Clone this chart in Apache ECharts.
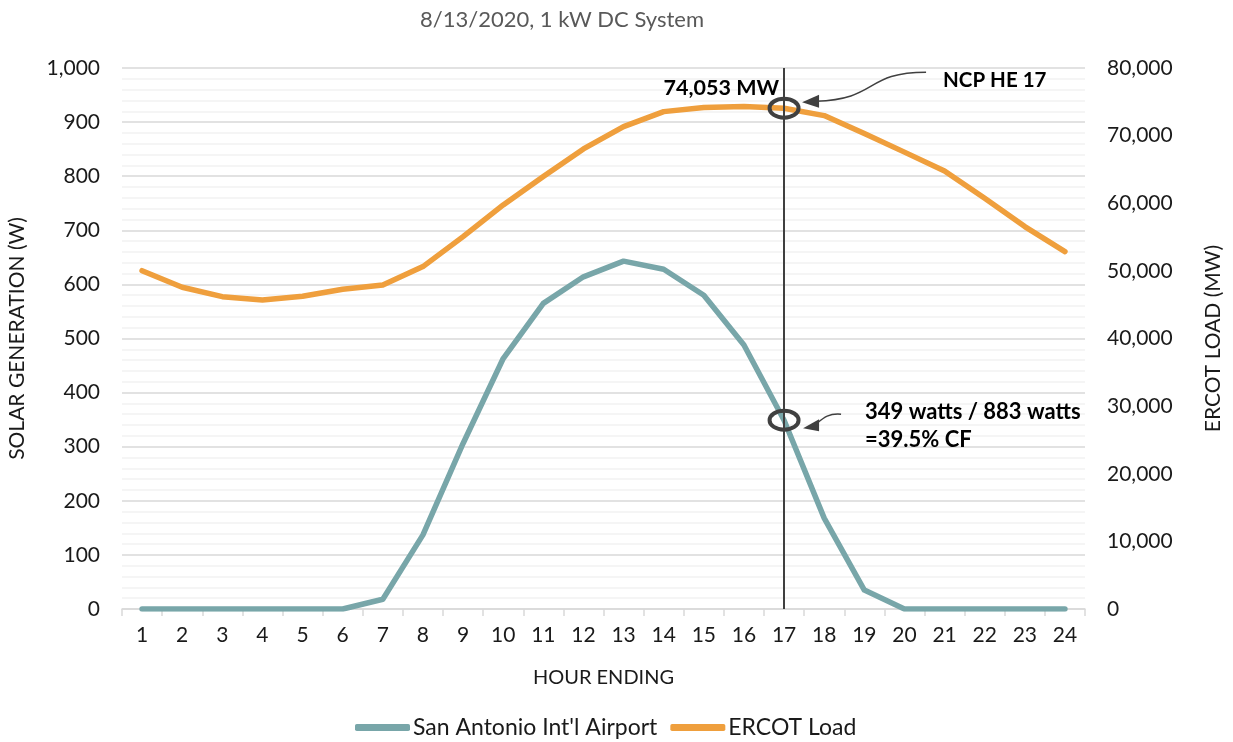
<!DOCTYPE html>
<html>
<head>
<meta charset="utf-8">
<script src="https://cdn.jsdelivr.net/npm/echarts@6/dist/echarts.min.js"></script>
<style>
  html, body { margin: 0; padding: 0; background: #fff; }
  #chart { width: 1233px; height: 742px; }
</style>
</head>
<body>
<div id="chart"></div>
<script>
// Hour-ending categories (1..24)
const hours = ['1','2','3','4','5','6','7','8','9','10','11','12','13','14','15','16','17','18','19','20','21','22','23','24'];

// Solar output of a 1 kW DC system, watts
const solarWatts = [0, 0, 0, 0, 0, 0, 18, 137, 306, 463, 565, 614, 643, 628, 580, 488, 349, 168, 35, 0, 0, 0, 0, 0];

// ERCOT system load, MW
const ercotLoad = [50030, 47580, 46190, 45700, 46250, 47280, 47920, 50630, 55070, 59750, 63940, 68030,
                   71330, 73550, 74150, 74300, 74053, 72960, 70300, 67560, 64780, 60740, 56550, 52850];

// Left / right axis ranges
const solarAxis = { min: 0, max: 1000, interval: 100 };
const loadAxis = { min: 0, max: 80000, interval: 10000 };

// Peak hour highlighted by the vertical marker
const peakHour = '17';
const peakLoad = 74053;
const peakSolar = 349;

const FONT = 'Lato, "Open Sans", sans-serif';
const TEXT = '#1a1a1a';
const TEAL = '#78a6a9';
const ORANGE = '#ef9f3d';
const DARK = '#404040';

const chart = echarts.init(document.getElementById('chart'), null, { renderer: 'canvas' });

chart.setOption({
  animation: false,
  textStyle: { fontFamily: FONT },
  title: {
    text: '8/13/2020, 1 kW DC System',
    left: 557, top: 4,
    textAlign: 'center',
    textStyle: { fontFamily: FONT, fontSize: 22, fontWeight: 'normal', color: '#595959' }
  },
  grid: { left: 122, right: 148, top: 68, bottom: 133, containLabel: false, outerBoundsMode: 'none' },
  legend: {
    top: 711,
    left: 350,
    itemWidth: 55,
    itemHeight: 7,
    itemGap: 13,
    icon: 'roundRect',
    textStyle: { fontFamily: FONT, fontSize: 23, color: TEXT, padding: [0, 0, 0, -2] },
    data: ["San Antonio Int'l Airport", 'ERCOT Load']
  },
  xAxis: {
    type: 'category',
    data: hours,
    boundaryGap: true,
    name: 'HOUR ENDING',
    nameLocation: 'middle',
    nameGap: 59,
    nameTextStyle: { fontFamily: FONT, fontSize: 20, color: TEXT },
    axisLine: { lineStyle: { color: '#d9d9d9', width: 1.5 } },
    axisTick: { show: true, length: 7, lineStyle: { color: '#d9d9d9', width: 1.5 } },
    axisLabel: { fontFamily: FONT, fontSize: 21, color: TEXT, margin: 16 },
    splitLine: { show: false }
  },
  yAxis: [
    {
      type: 'value',
      min: solarAxis.min, max: solarAxis.max, interval: solarAxis.interval,
      name: 'SOLAR GENERATION (W)',
      nameLocation: 'middle',
      nameGap: 94,
      nameRotate: 90,
      nameTextStyle: { fontFamily: FONT, fontSize: 21, color: TEXT },
      axisLine: { show: false },
      axisTick: { show: false },
      axisLabel: {
        fontFamily: FONT, fontSize: 21, color: TEXT, margin: 22,
        formatter: v => v.toLocaleString('en-US')
      },
      splitLine: { show: true, lineStyle: { color: '#d9d9d9', width: 1.5 } },
      minorTick: { show: false, splitNumber: 5 },
      minorSplitLine: { show: true, lineStyle: { color: '#f2f2f2', width: 1.5 } }
    },
    {
      type: 'value',
      min: loadAxis.min, max: loadAxis.max, interval: loadAxis.interval,
      position: 'right',
      name: 'ERCOT LOAD (MW)',
      nameLocation: 'middle',
      nameGap: 118,
      nameRotate: 90,
      nameTextStyle: { fontFamily: FONT, fontSize: 21, color: TEXT },
      axisLine: { show: false },
      axisTick: { show: false },
      axisLabel: {
        fontFamily: FONT, fontSize: 21, color: TEXT, margin: 22,
        formatter: v => v.toLocaleString('en-US')
      },
      splitLine: { show: false }
    }
  ],
  series: [
    {
      name: "San Antonio Int'l Airport",
      type: 'line',
      yAxisIndex: 0,
      data: solarWatts,
      symbol: 'none',
      color: TEAL,
      lineStyle: { color: TEAL, width: 5.5, cap: 'round', join: 'round' },
      z: 3,
      markLine: {
        silent: true,
        symbol: 'none',
        label: { show: false },
        lineStyle: { color: DARK, width: 2, type: 'solid' },
        data: [{ xAxis: peakHour }],
        z: 5
      }
    },
    {
      name: 'ERCOT Load',
      type: 'line',
      yAxisIndex: 1,
      data: ercotLoad,
      symbol: 'none',
      color: ORANGE,
      lineStyle: { color: ORANGE, width: 5.5, cap: 'round', join: 'round' },
      z: 3
    }
  ]
});

// Callouts at the peak hour, placed from the axes' own scales
const pLoad = chart.convertToPixel({ seriesIndex: 1 }, [peakHour, peakLoad]);
const pSolar = chart.convertToPixel({ seriesIndex: 0 }, [peakHour, peakSolar]);

const ring = (p) => ({
  type: 'ellipse',
  shape: { cx: p[0], cy: p[1], rx: 14.5, ry: 9.5 },
  style: { fill: 'none', stroke: DARK, lineWidth: 4 },
  z: 10
});
const curve = (x1, y1, c1x, c1y, c2x, c2y, x2, y2) => ({
  type: 'bezierCurve',
  shape: { x1, y1, cpx1: c1x, cpy1: c1y, cpx2: c2x, cpy2: c2y, x2, y2 },
  style: { stroke: DARK, lineWidth: 1.5, fill: 'none' },
  z: 10
});
const head = (tipX, tipY, baseX, halfH, dy) => ({
  type: 'polygon',
  shape: { points: [[tipX, tipY], [baseX, tipY - halfH + (dy || 0)], [baseX, tipY + halfH + (dy || 0)]] },
  style: { fill: DARK },
  z: 10
});
const label = (x, y, text, align, size) => ({
  type: 'text',
  x, y,
  style: {
    text, fill: '#000', font: 'bold ' + (size || 21) + 'px ' + FONT,
    textAlign: align || 'left', textVerticalAlign: 'middle'
  },
  z: 10
});

const lx = pLoad[0], ly = pLoad[1];
const sx = pSolar[0], sy = pSolar[1];

chart.setOption({
  graphic: [
    ring(pLoad),
    ring(pSolar),
    // load callout
    label(lx - 5, ly - 20, '74,053 MW', 'right', 21.5),
    label(lx + 159, ly - 28, 'NCP HE 17', 'left', 20.5),
    curve(lx + 142, ly - 36, lx + 80, ly - 36, lx + 95, ly - 9, lx + 32, ly - 7),
    head(lx + 18, ly - 6, lx + 35, 6.5, -1),
    // solar callout
    label(sx + 81, sy - 8, '349 watts / 883 watts', 'left', 22),
    label(sx + 81, sy + 20, '=39.5% CF', 'left', 22),
    curve(sx + 57, sy - 6, sx + 45, sy - 7, sx + 40, sy - 3, sx + 33, sy + 3),
    head(sx + 19, sy + 8, sx + 35, 6, -3)
  ]
});
</script>
</body>
</html>
